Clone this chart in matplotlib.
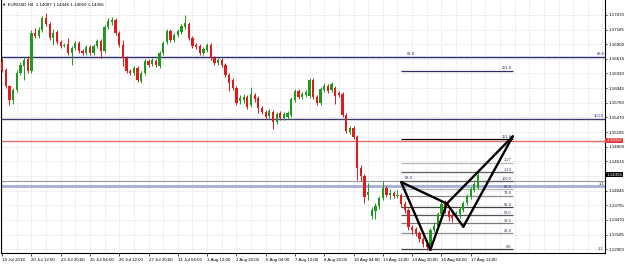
import numpy as np
import matplotlib
matplotlib.use("Agg")
import matplotlib.pyplot as plt
import matplotlib.transforms as mtransforms

plt.rcParams['font.family'] = ['Liberation Sans', 'DejaVu Sans']

title = "EURUSD,H4  1.14087 1.14446 1.14069 1.14356"

# H4 bars, 19 Jul 2018 04:00 .. 17 Aug 2018 20:00
opens = [
    1.1655, 1.1640, 1.1608, 1.1581, 1.1600, 1.1634, 1.1647, 1.1661, 1.1638, 1.1712,
    1.1706, 1.1718, 1.1741, 1.1729, 1.1702, 1.1714, 1.1694, 1.1686, 1.1690, 1.1673,
    1.1682, 1.1692, 1.1677, 1.1673, 1.1684, 1.1673, 1.1686, 1.1696, 1.1677, 1.1723,
    1.1733, 1.1737, 1.1712, 1.1688, 1.1663, 1.1638, 1.1634, 1.1643, 1.1618, 1.1634,
    1.1657, 1.1651, 1.1657, 1.1647, 1.1673, 1.1694, 1.1716, 1.1698, 1.1708, 1.1714,
    1.1723, 1.1729, 1.1702, 1.1688, 1.1686, 1.1673, 1.1679, 1.1688, 1.1663, 1.1653,
    1.1659, 1.1649, 1.1630, 1.1620, 1.1604, 1.1579, 1.1581, 1.1587, 1.1571, 1.1591,
    1.1585, 1.1565, 1.1558, 1.1550, 1.1558, 1.1538, 1.1556, 1.1546, 1.1548, 1.1552,
    1.1581, 1.1599, 1.1587, 1.1591, 1.1589, 1.1620, 1.1587, 1.1575, 1.1600, 1.1608,
    1.1600, 1.1604, 1.1595, 1.1593, 1.1552, 1.1519, 1.1526, 1.1509, 1.1448, 1.1433,
    1.1396, 1.1355, 1.1365, 1.1374, 1.1390, 1.1409, 1.1396, 1.1400, 1.1394, 1.1396,
    1.1378, 1.1367, 1.1333, 1.1329, 1.1322, 1.1310, 1.1300, 1.1296, 1.1328, 1.1335,
    1.1359, 1.1378, 1.1365, 1.1357, 1.1355, 1.1359, 1.1367, 1.1380, 1.1392, 1.1406,
    1.14087]
highs = [
    1.1663, 1.1643, 1.1610, 1.1604, 1.1640, 1.1655, 1.1665, 1.1667, 1.1718, 1.1721,
    1.1723, 1.1745, 1.1751, 1.1733, 1.1719, 1.1718, 1.1698, 1.1692, 1.1702, 1.1686,
    1.1696, 1.1696, 1.1680, 1.1688, 1.1688, 1.1690, 1.1700, 1.1700, 1.1727, 1.1741,
    1.1743, 1.1741, 1.1716, 1.1698, 1.1667, 1.1641, 1.1647, 1.1647, 1.1638, 1.1661,
    1.1661, 1.1663, 1.1661, 1.1677, 1.1696, 1.1719, 1.1719, 1.1712, 1.1719, 1.1729,
    1.1747, 1.1733, 1.1706, 1.1692, 1.1690, 1.1684, 1.1692, 1.1692, 1.1667, 1.1663,
    1.1663, 1.1653, 1.1634, 1.1624, 1.1608, 1.1591, 1.1593, 1.1591, 1.1606, 1.1595,
    1.1589, 1.1569, 1.1561, 1.1563, 1.1561, 1.1558, 1.1560, 1.1558, 1.1560, 1.1587,
    1.1602, 1.1602, 1.1597, 1.1600, 1.1624, 1.1624, 1.1591, 1.1606, 1.1614, 1.1612,
    1.1616, 1.1608, 1.1599, 1.1597, 1.1556, 1.1530, 1.1530, 1.1513, 1.1454, 1.1437,
    1.1419, 1.1372, 1.1380, 1.1394, 1.1423, 1.1413, 1.1407, 1.1404, 1.1406, 1.1400,
    1.1384, 1.1370, 1.1337, 1.1333, 1.1326, 1.1314, 1.1304, 1.1331, 1.1343, 1.1363,
    1.1384, 1.1386, 1.1368, 1.1361, 1.1365, 1.1372, 1.1384, 1.1398, 1.1411, 1.1421,
    1.14446]
lows = [
    1.1636, 1.1604, 1.1571, 1.1573, 1.1597, 1.1630, 1.1620, 1.1634, 1.1634, 1.1702,
    1.1702, 1.1714, 1.1725, 1.1698, 1.1688, 1.1690, 1.1682, 1.1684, 1.1669, 1.1649,
    1.1679, 1.1673, 1.1669, 1.1669, 1.1669, 1.1669, 1.1682, 1.1663, 1.1673, 1.1719,
    1.1727, 1.1708, 1.1684, 1.1647, 1.1634, 1.1630, 1.1630, 1.1616, 1.1614, 1.1630,
    1.1645, 1.1647, 1.1645, 1.1643, 1.1669, 1.1690, 1.1694, 1.1694, 1.1704, 1.1710,
    1.1719, 1.1698, 1.1682, 1.1680, 1.1669, 1.1669, 1.1675, 1.1659, 1.1649, 1.1649,
    1.1645, 1.1626, 1.1599, 1.1600, 1.1571, 1.1573, 1.1575, 1.1563, 1.1567, 1.1577,
    1.1556, 1.1554, 1.1544, 1.1546, 1.1524, 1.1534, 1.1542, 1.1542, 1.1544, 1.1548,
    1.1577, 1.1583, 1.1583, 1.1587, 1.1585, 1.1583, 1.1571, 1.1571, 1.1597, 1.1595,
    1.1597, 1.1573, 1.1587, 1.1548, 1.1517, 1.1515, 1.1505, 1.1425, 1.1423, 1.1380,
    1.1386, 1.1349, 1.1349, 1.1368, 1.1386, 1.1392, 1.1388, 1.1390, 1.1390, 1.1372,
    1.1361, 1.1328, 1.1320, 1.1316, 1.1304, 1.1294, 1.1289, 1.1290, 1.1324, 1.1331,
    1.1355, 1.1361, 1.1345, 1.1343, 1.1351, 1.1351, 1.1363, 1.1376, 1.1388, 1.1402,
    1.14069]
closes = [
    1.1640, 1.1608, 1.1581, 1.1600, 1.1634, 1.1649, 1.1659, 1.1638, 1.1712, 1.1706,
    1.1718, 1.1741, 1.1729, 1.1702, 1.1712, 1.1694, 1.1686, 1.1688, 1.1673, 1.1682,
    1.1692, 1.1677, 1.1673, 1.1684, 1.1673, 1.1686, 1.1696, 1.1677, 1.1723, 1.1735,
    1.1737, 1.1712, 1.1688, 1.1663, 1.1638, 1.1634, 1.1643, 1.1620, 1.1634, 1.1657,
    1.1649, 1.1659, 1.1649, 1.1673, 1.1692, 1.1716, 1.1698, 1.1708, 1.1716, 1.1725,
    1.1731, 1.1702, 1.1686, 1.1684, 1.1673, 1.1680, 1.1688, 1.1663, 1.1653, 1.1659,
    1.1649, 1.1630, 1.1614, 1.1604, 1.1575, 1.1585, 1.1587, 1.1567, 1.1593, 1.1583,
    1.1565, 1.1558, 1.1548, 1.1560, 1.1538, 1.1554, 1.1546, 1.1554, 1.1556, 1.1583,
    1.1599, 1.1587, 1.1593, 1.1597, 1.1620, 1.1587, 1.1575, 1.1602, 1.1608, 1.1599,
    1.1612, 1.1589, 1.1591, 1.1552, 1.1521, 1.1526, 1.1509, 1.1448, 1.1433, 1.1392,
    1.1402, 1.1367, 1.1374, 1.1390, 1.1409, 1.1396, 1.1400, 1.1394, 1.1396, 1.1378,
    1.1367, 1.1333, 1.1328, 1.1322, 1.1310, 1.1300, 1.1294, 1.1328, 1.1335, 1.1359,
    1.1378, 1.1365, 1.1353, 1.1351, 1.1361, 1.1368, 1.1380, 1.1394, 1.1407, 1.1417,
    1.14356]

time_labels = ["19 Jul 2018", "20 Jul 12:00", "23 Jul 20:00", "25 Jul 04:00",
               "26 Jul 12:00", "27 Jul 20:00", "31 Jul 04:00", "1 Aug 12:00",
               "2 Aug 20:00", "6 Aug 04:00", "7 Aug 12:00", "8 Aug 20:00",
               "10 Aug 04:00", "13 Aug 12:00", "14 Aug 20:00", "16 Aug 04:00",
               "17 Aug 12:00"]
price_labels = ["1.12900", "1.13185", "1.13470", "1.13755", "1.14045", "", "1.14615",
                "1.14900", "1.15185", "1.15470", "1.15760", "1.16045", "1.16330",
                "1.16615", "1.16900", "1.17185", "1.17470"]

# bat pattern X A B C D (bar index, price)
pat_x = [109, 117, 121.5, 126, 139.5]
pat_p = [1.1421, 1.1289, 1.1379, 1.1334, 1.1510]

# fibo drawn from A (0.0) to X (100.0)
fib_low, fib_high = 1.1290, 1.1423
fib_levels = [0.0, 23.6, 38.2, 50.0, 61.8, 78.6, 88.6, 100.0, 113.0, 127.0, 161.8, 261.8]
fib_names = ["0.0", "23.6", "38.2", "50.0", "61.8", "78.6", "88.6", "100.0",
             "1.13", "1.27", "161.8", "261.8"]
fib_colors = ["#404040", "#8c8c8c", "#7a7a7a", "#555555", "#404040", "#8c8c8c",
              "#b4b4b4", "#606060", "#606060", "#b4b4b4", "#000000", "#303060"]

# horizontal line objects
hlines = [1.1665, 1.1544, 1.1502, 1.1423, 1.1413]
hline_colors = ["#2c2c70", "#3c3c6c", "#e07070", "#9a9a9a", "#a6aed2"]
hline_widths = [1.0, 1.0, 1.0, 0.8, 2.0]

bid = 1.14356
red_price = 1.15022

fs = 3.2
bull = "#1f9a1f"
bear = "#e3191c"

fig = plt.figure(figsize=(6.25, 2.68), dpi=100)
ax = fig.add_axes([1 / 625, 15 / 268, 604 / 625, 253 / 268])

x = np.arange(len(closes))
o = np.array(opens)
h = np.array(highs)
l = np.array(lows)
c = np.array(closes)
col = np.where(c >= o, bull, bear)

ax.vlines(x, l, h, colors=col, lw=0.7, zorder=3)
ax.bar(x, np.maximum(np.abs(c - o), 0.00004), bottom=np.minimum(o, c),
       width=0.62, color=col, linewidth=0, zorder=4)

# full-width horizontal lines
for p, cc, lw in zip(hlines, hline_colors, hline_widths):
    ax.axhline(p, color=cc, lw=lw, zorder=2)

ax.text(110.5, hlines[0] + 0.0001, "61.8", color="#2c2c70", fontsize=fs - 0.2,
        va="bottom", ha="left")
ax.text(164.5, hlines[0] + 0.0001, "88.6", color="#2c2c70", fontsize=fs - 0.2,
        va="bottom", ha="right")
ax.text(164.5, hlines[1] + 0.0001, "100.0", color="#2c2c70", fontsize=fs - 0.2,
        va="bottom", ha="right")
ax.text(164.5, 1.1418, "1.1", color="#333333", fontsize=fs - 0.2, va="center", ha="right")
ax.text(164.2, 1.1291, "1.1", color="#333333", fontsize=fs - 0.2, va="center", ha="right")
ax.text(110.0, 1.1426, "88.6", color="#333366", fontsize=fs - 0.3, va="bottom", ha="left")

# fibo levels
for lev, name, cc in zip(fib_levels, fib_names, fib_colors):
    p = fib_low + (fib_high - fib_low) * lev / 100.0
    ax.plot([pat_x[0], pat_x[-1]], [p, p], color=cc, lw=0.9, zorder=2.5,
            solid_capstyle="butt")
    ax.text(pat_x[-1] - 0.3, p + 0.00005, name, color="#333366", fontsize=fs - 0.3,
            va="bottom", ha="right", zorder=5)

# bat pattern: XAB and BCD triangles
seg = [(0, 1), (1, 2), (2, 0), (2, 3), (3, 4), (4, 2)]
for a, b in seg:
    ax.plot([pat_x[a], pat_x[b]], [pat_p[a], pat_p[b]], color="black", lw=1.7,
            zorder=6, solid_capstyle="round")

ax.set_xlim(-0.3, 164.7)
ax.set_ylim(1.12827, 1.1776)

ax.set_xticks(np.arange(0, 8 * len(time_labels), 8))
ax.set_xticklabels(time_labels, ha="left")
ax.set_xticks(np.arange(0, 165, 4), minor=True)
ax.tick_params(axis="x", which="major", length=2, width=0.5, pad=1.5, labelsize=fs)
ax.tick_params(axis="x", which="minor", length=0)

yt = np.linspace(1.12900, 1.17470, len(price_labels))
ax.yaxis.tick_right()
ax.set_yticks(yt)
ax.set_yticklabels(price_labels)
ax.tick_params(axis="y", length=1.5, width=0.5, pad=1.0, labelsize=fs)

ax.xaxis.grid(True, which="both", color="#c4c4c4", linestyle=(0, (1, 2)), lw=0.5)
ax.yaxis.grid(True, which="major", color="#c4c4c4", linestyle=(0, (1, 2)), lw=0.5)
ax.set_axisbelow(True)
for s in ax.spines.values():
    s.set_linewidth(0.8)
    s.set_color("black")
ax.spines["top"].set_visible(False)

trans = mtransforms.blended_transform_factory(ax.transAxes, ax.transData)
ax.text(1.002, bid, "%.5f" % bid, transform=trans, color="white", fontsize=fs,
        va="center", ha="left", clip_on=False, zorder=10,
        bbox=dict(boxstyle="square,pad=0.2", fc="black", ec="none"))
ax.text(1.002, red_price, "%.5f" % red_price, transform=trans, color="white", fontsize=fs,
        va="center", ha="left", clip_on=False, zorder=10,
        bbox=dict(boxstyle="square,pad=0.2", fc="#e03c3c", ec="none"))

fig.text(2 / 625, 1 - 5 / 268, "\u25bc " + title, fontsize=fs, va="center", ha="left",
         color="black")

fig.savefig("out.png", dpi=100, facecolor="white")
